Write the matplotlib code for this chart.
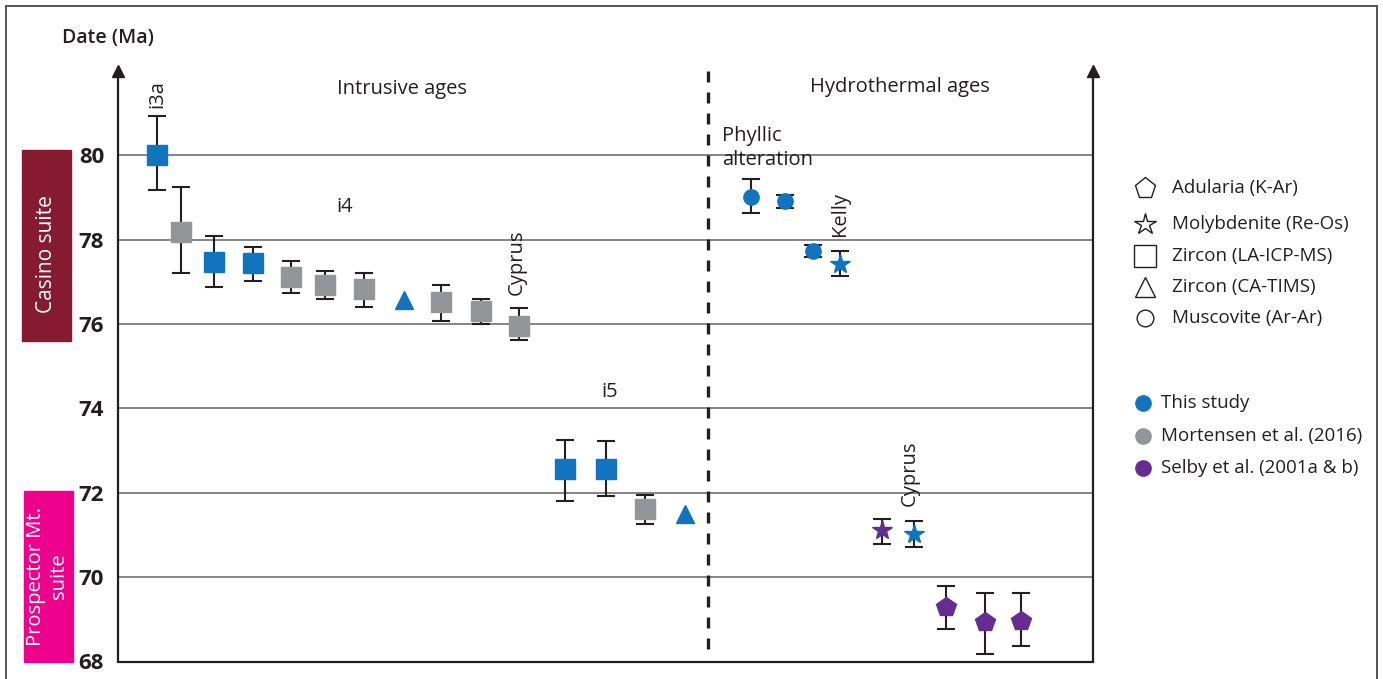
import matplotlib
matplotlib.use("Agg")
import matplotlib.pyplot as plt
from matplotlib.patches import Rectangle
from matplotlib.lines import Line2D

plt.rcParams['font.family'] = ['Open Sans', 'DejaVu Sans']

# ---------------- data ----------------
# sample position along the x axis (axis spans 0..975)
x_pos = [39, 63, 96, 135, 173, 207, 246, 286, 323, 363, 401,
         447, 488, 527, 567,
         633, 667, 695, 722, 764, 796, 828, 867, 903]
ages = [80.0, 78.18, 77.46, 77.44, 77.1, 76.92, 76.82, 76.56, 76.52, 76.3, 75.95,
        72.56, 72.56, 71.61, 71.49,
        79.0, 78.91, 77.73, 77.42, 71.11, 71.02, 69.29, 68.93, 68.96]
err_up = [0.92, 1.06, 0.62, 0.38, 0.39, 0.33, 0.38, 0.0, 0.40, 0.30, 0.42,
          0.69, 0.66, 0.33, 0.0,
          0.43, 0.14, 0.14, 0.31, 0.26, 0.31, 0.50, 0.69, 0.66]
err_dn = [0.83, 0.98, 0.59, 0.43, 0.37, 0.33, 0.42, 0.0, 0.45, 0.31, 0.33,
          0.76, 0.64, 0.35, 0.0,
          0.37, 0.17, 0.15, 0.29, 0.33, 0.31, 0.52, 0.75, 0.59]
mineral = ['zLA', 'zLA', 'zLA', 'zLA', 'zLA', 'zLA', 'zLA', 'zCA', 'zLA', 'zLA', 'zLA',
           'zLA', 'zLA', 'zLA', 'zCA',
           'mus', 'mus', 'mus', 'mol', 'mol', 'mol', 'adu', 'adu', 'adu']
source = ['this', 'mort', 'this', 'this', 'mort', 'mort', 'mort', 'this', 'mort', 'mort', 'mort',
          'this', 'this', 'mort', 'this',
          'this', 'this', 'this', 'this', 'selby', 'this', 'selby', 'selby', 'selby']

y_ticks = [68, 70, 72, 74, 76, 78, 80]
grid_lines = [70, 72, 74, 76, 78, 80]

shape_labels = ['Adularia (K-Ar)', 'Molybdenite (Re-Os)', 'Zircon (LA-ICP-MS)',
                'Zircon (CA-TIMS)', 'Muscovite (Ar-Ar)']
shape_keys = ['adu', 'mol', 'zLA', 'zCA', 'mus']
source_labels = ['This study', 'Mortensen et al. (2016)', 'Selby et al. (2001a & b)']
source_keys = ['this', 'mort', 'selby']

# ---------------- styles ----------------
colors = {'this': '#1273BE', 'mort': '#939598', 'selby': '#662D91'}
markers = {'adu': 'p', 'mol': '*', 'zLA': 's', 'zCA': '^', 'mus': 'o'}
msizes = {'adu': 14.5, 'mol': 15, 'zLA': 15, 'zCA': 13, 'mus': 11}
ink = '#231F20'
FS = 14.5

W, H = 1383, 679
fig = plt.figure(figsize=(W / 100, H / 100), dpi=100)

def fx(px):
    return px / W

def fy(py):
    return 1 - py / H

ax_left, ax_right = 118, 1093
ax_top, ax_bot = 70.7, 661.5
ax = fig.add_axes([fx(ax_left), fy(ax_bot), fx(ax_right) - fx(ax_left), (ax_bot - ax_top) / H])
ax.set_xlim(0, 975)
ax.set_ylim(68, 82)

# grid
for g in grid_lines:
    ax.axhline(g, color='#6f6f6f', lw=1.2, zorder=1)

# spines
ax.spines['top'].set_visible(False)
for s in ['left', 'right', 'bottom']:
    ax.spines[s].set_color(ink)
    ax.spines[s].set_linewidth(1.6)
ax.plot([0, 1], [1, 1], marker='^', ms=9, color=ink, ls='none',
        transform=ax.transAxes, clip_on=False, zorder=5)

ax.set_yticks(y_ticks)
ax.set_yticklabels([str(t) for t in y_ticks], fontsize=16, fontweight='bold', color=ink)
ax.set_xticks([])
ax.tick_params(axis='y', length=0, pad=10)

# dashed divider
ax.plot([590, 590], [82, 68.15], color=ink, lw=2.4, ls=(0, (3.3, 3.0)), zorder=2, clip_on=False)

# error bars + markers
for xi, yi, eu, ed, m, s in zip(x_pos, ages, err_up, err_dn, mineral, source):
    if eu > 0 or ed > 0:
        ax.errorbar([xi], [yi], yerr=[[ed], [eu]], fmt='none', ecolor=ink,
                    elinewidth=1.5, capsize=6.5, capthick=1.5, zorder=3)
    ax.plot([xi], [yi], marker=markers[m], ms=msizes[m], color=colors[s],
            mec=colors[s], ls='none', zorder=4)

# annotations
tc = ink
kw = dict(fontsize=FS, color=tc, fontweight='medium')
ax.text(284, 81.57, 'Intrusive ages', ha='center', va='center', **kw)
ax.text(782, 81.61, 'Hydrothermal ages', ha='center', va='center', **kw)
ax.text(39, 81.12, 'i3a', rotation=90, ha='center', va='bottom', **kw)
ax.text(227, 78.77, 'i4', ha='center', va='center', **kw)
ax.text(399, 76.68, 'Cyprus', rotation=90, ha='center', va='bottom', **kw)
ax.text(492, 74.38, 'i5', ha='center', va='center', **kw)
ax.text(604, 80.68, 'Phyllic\nalteration', ha='left', va='top', linespacing=1.25, **kw)
ax.text(722, 78.08, 'Kelly', rotation=90, ha='center', va='bottom', **kw)
ax.text(792, 71.68, 'Cyprus', rotation=90, ha='center', va='bottom', **kw)

# figure-level decorations
fig.text(fx(62), fy(38), 'Date (Ma)', ha='left', va='center', fontsize=14,
         fontweight='semibold', color=tc)

fig.add_artist(Rectangle((fx(22), fy(341)), fx(49), (341 - 150) / H,
                         transform=fig.transFigure, color='#861A30', zorder=0))
fig.text(fx(46.5), fy(254), 'Casino suite', rotation=90, ha='center', va='center',
         fontsize=15, color='white', fontweight='medium')
fig.add_artist(Rectangle((fx(24), fy(662)), fx(49), (662 - 491) / H,
                         transform=fig.transFigure, color='#EC008C', zorder=0))
fig.text(fx(47.5), fy(576), 'Prospector Mt.\nsuite', rotation=90, ha='center', va='center',
         fontsize=14.5, color='white', linespacing=1.25, multialignment='center',
         fontweight='medium')

# outer frame
fig.add_artist(Rectangle((fx(6), fy(690)), fx(1377 - 6), (690 - 6) / H,
                         transform=fig.transFigure, fill=False, ec='#555555', lw=1.4))

# legends (manual)
shape_y = [188, 224, 256, 287, 318]
for lab, key, py in zip(shape_labels, shape_keys, shape_y):
    fig.add_artist(Line2D([fx(1145)], [fy(py)], marker=markers[key], ms=msizes[key] + 1,
                          mfc='white', mec=ink, mew=1.0, ls='none',
                          transform=fig.transFigure))
    fig.text(fx(1172), fy(py), lab, ha='left', va='center', fontsize=13.5, color=tc,
             fontweight='medium')

src_y = [403, 436, 468]
for lab, key, py in zip(source_labels, source_keys, src_y):
    fig.add_artist(Line2D([fx(1143)], [fy(py)], marker='o', ms=11,
                          color=colors[key], ls='none', transform=fig.transFigure))
    fig.text(fx(1161), fy(py), lab, ha='left', va='center', fontsize=13.5, color=tc,
             fontweight='medium')

fig.savefig('out.png', dpi=100)
